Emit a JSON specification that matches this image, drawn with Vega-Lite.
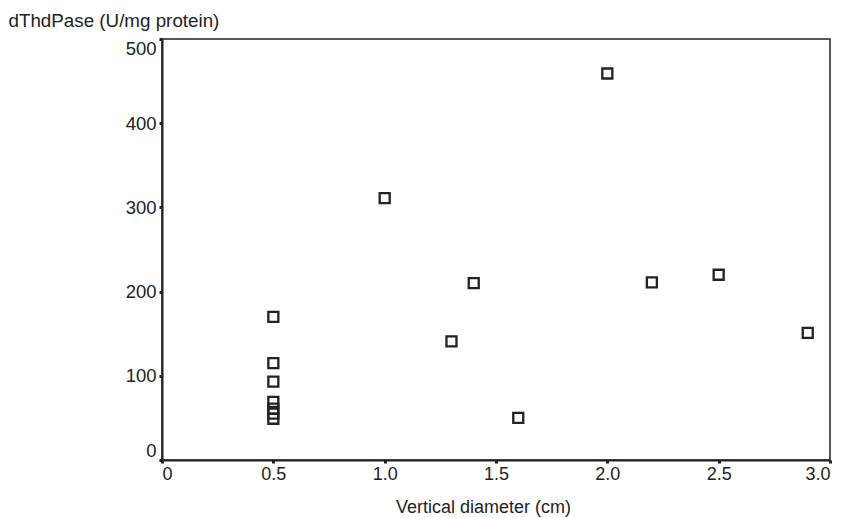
{
  "$schema": "https://vega.github.io/schema/vega-lite/v6.json",
  "width": 668,
  "height": 421,
  "autosize": {"type": "none"},
  "padding": {"left": 162, "top": 39, "right": 13, "bottom": 58},
  "background": "white",
  "config": {
    "view": {"stroke": "#222", "strokeWidth": 1.5},
    "font": "Liberation Sans"
  },
  "data": {
    "values": [
      {"d": 0.5, "v": 170},
      {"d": 0.5, "v": 115},
      {"d": 0.5, "v": 93},
      {"d": 0.5, "v": 69},
      {"d": 0.5, "v": 61},
      {"d": 0.5, "v": 55},
      {"d": 0.5, "v": 49},
      {"d": 1.0, "v": 311},
      {"d": 1.3, "v": 141},
      {"d": 1.4, "v": 210},
      {"d": 1.6, "v": 50},
      {"d": 2.0, "v": 459},
      {"d": 2.2, "v": 211},
      {"d": 2.5, "v": 220},
      {"d": 2.9, "v": 151}
    ]
  },
  "mark": {"type": "point", "shape": "square", "filled": false, "size": 100, "strokeWidth": 2.3, "color": "#222", "opacity": 1},
  "encoding": {
    "x": {
      "field": "d", "type": "quantitative",
      "scale": {"domain": [0, 3], "nice": false, "zero": true},
      "axis": {
        "values": [0, 0.5, 1, 1.5, 2, 2.5, 3],
        "labelExpr": "datum.value == 0 ? '0' : format(datum.value, '.1f')",
        "grid": false, "domainColor": "#222", "domainWidth": 2,
        "tickColor": "#222", "tickSize": 3, "tickWidth": 3,
        "labelFontSize": 18, "labelColor": "#222", "labelPadding": 2,
        "title": "Vertical diameter (cm)", "titleFontWeight": "normal",
        "titleFontSize": 18, "titleColor": "#222",
        "titleX": 321, "titleY": 52, "titleBaseline": "alphabetic"
      }
    },
    "y": {
      "field": "v", "type": "quantitative",
      "scale": {"domain": [0, 500], "nice": false},
      "axis": {
        "values": [0, 100, 200, 300, 400, 500],
        "grid": false, "domainColor": "#222", "domainWidth": 2,
        "tickColor": "#222", "tickSize": 3, "tickWidth": 3,
        "labelFontSize": 18.5, "labelColor": "#222", "labelPadding": 3,
        "labelFlush": true,
        "title": "dThdPase (U/mg protein)", "titleFontWeight": "normal",
        "titleFontSize": 18.8, "titleColor": "#222", "titleAngle": 0,
        "titleAlign": "left", "titleBaseline": "alphabetic",
        "titleX": -154, "titleY": -13
      }
    }
  }
}
